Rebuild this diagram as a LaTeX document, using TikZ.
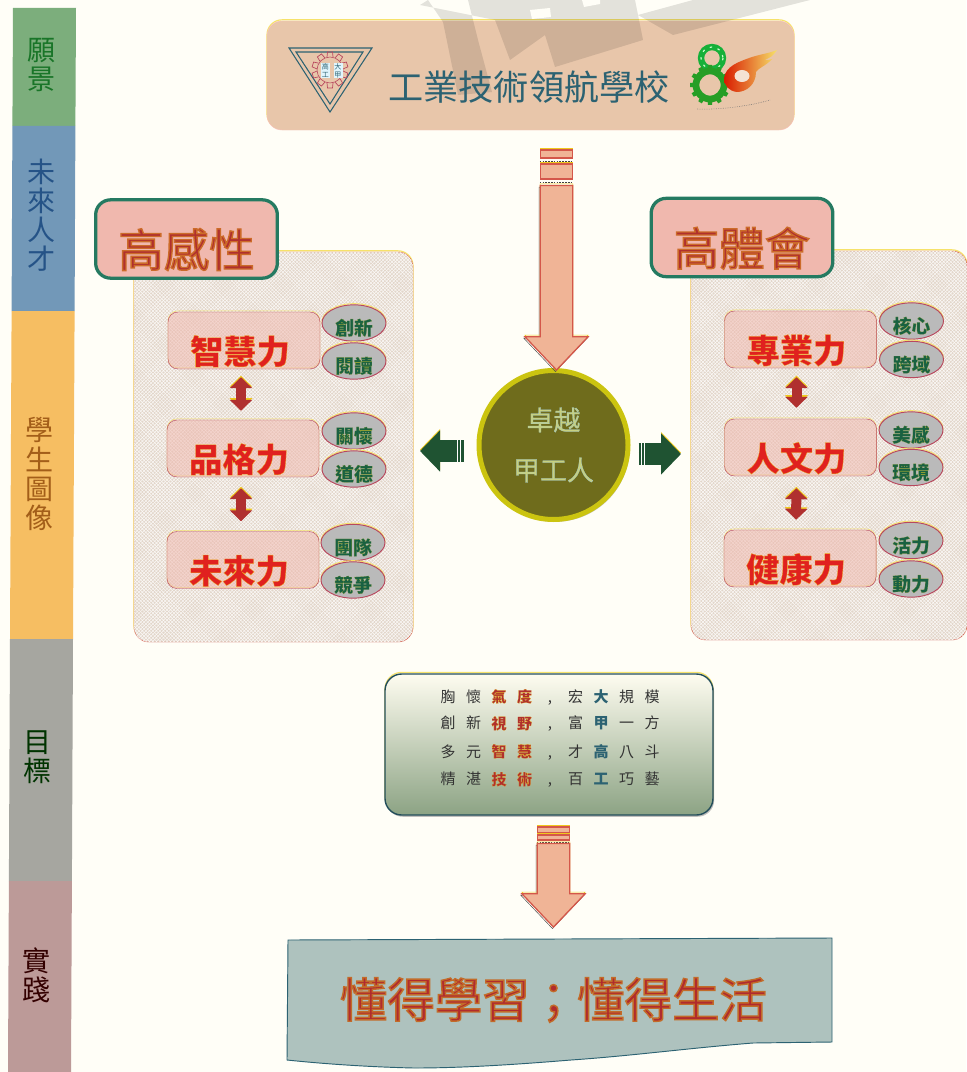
\documentclass[tikz,border=0pt]{standalone}
\usepackage{fontspec}
\setmainfont{Noto Sans CJK TC}
\usetikzlibrary{arrows.meta,patterns,shadows,shapes.geometric}

\definecolor{paper}{HTML}{FFFEF7}
\definecolor{barone}{HTML}{7CAE7C}
\definecolor{bartwo}{HTML}{7298B8}
\definecolor{barthree}{HTML}{F6BE62}
\definecolor{barfour}{HTML}{A6A6A0}
\definecolor{barfive}{HTML}{BC9A98}
\definecolor{tan}{HTML}{E8C6AA}
\definecolor{teal}{HTML}{2C6272}
\definecolor{markyellow}{HTML}{EFC81E}
\definecolor{softyellow}{HTML}{F6E26A}
\definecolor{brick}{HTML}{B0302F}
\definecolor{rim}{HTML}{B8485E}
\definecolor{rosefill}{HTML}{F0B8AE}
\definecolor{peach}{HTML}{F0B496}
\definecolor{peachedge}{HTML}{D4574A}
\definecolor{leaf}{HTML}{1F5332}
\definecolor{olive}{HTML}{6F6C1C}
\definecolor{ring}{HTML}{CBC410}
\definecolor{sage}{HTML}{8CA384}
\definecolor{slate}{HTML}{AEC2BE}
\definecolor{mesh}{HTML}{E2D6CA}

% text with a thin coloured edge: weight, fill rgb, edge rgb, text
\newcommand{\edgetext}[4]{{\addfontfeatures{FakeBold=#1}\special{pdf:bcolor [#2] [#3]}#4\special{pdf:ecolor}}}
\newcommand{\titlename}[1]{\raisebox{-.84cm}[0pt][0pt]{\edgetext{3}{.69 .19 .18}{.80 .42 .16}{#1}}}
\newcommand{\skillname}[1]{\kern-.24cm\raisebox{-.705cm}[0pt][0pt]{\bfseries\edgetext{.8}{.88 .13 .12}{.94 .70 .12}{#1}}}
\newcommand{\tagname}[1]{\raisebox{-.36cm}[0pt][0pt]{\bfseries\edgetext{.6}{.10 .38 .26}{.55 .62 .20}{#1}}}
\newcommand{\plainchar}[1]{\makebox[.765cm]{\textcolor{black!80}{#1}}}
\newcommand{\redchar}[1]{\makebox[.765cm]{\bfseries\edgetext{.9}{.69 .19 .18}{.90 .72 .15}{#1}}}
\newcommand{\bluechar}[1]{\makebox[.765cm]{\bfseries\textcolor{teal}{#1}}}

\tikzset{
  barlabel/.style={align=center, inner sep=0pt, font=\fontsize{23.9}{24.8}\selectfont},
  bannerbox/.style={rounded corners=.45cm, fill=tan, draw=pink!70!tan, minimum width=15.81cm, minimum height=3.27cm, preaction={draw=softyellow, line width=1pt, transform canvas={yshift=1pt}}},
  panelbox/.style 2 args={rounded corners=.45cm, fill=mesh, draw=peachedge, minimum width=#1*.03cm, minimum height=#2*.03cm, preaction={draw=softyellow, line width=1pt, transform canvas={yshift=1pt}}, postaction={pattern=crosshatch, pattern color=white!85!mesh}},
  titlebox/.style={rounded corners=.45cm, fill=rosefill, draw=teal!85!green, line width=2.8pt, minimum width=5.45cm, minimum height=2.35cm, font=\fontsize{38.8}{38.8}\selectfont},
  skillbox/.style={rounded corners=.3cm, fill=rosefill, fill opacity=.55, text opacity=1, draw=rim, minimum width=4.56cm, minimum height=1.71cm, font=\fontsize{28.4}{28.4}\selectfont, preaction={draw=softyellow, transform canvas={yshift=1pt}}},
  tagbox/.style={ellipse, fill=black!27, draw=rim, line width=.8pt, inner sep=0pt, minimum width=1.92cm, minimum height=1.09cm, font=\fontsize{16}{16}\selectfont, preaction={draw=softyellow, transform canvas={yshift=1pt}}},
  bandbox/.style={fill=peach, draw=peachedge, line width=1pt, inner sep=0pt, minimum width=.97cm, preaction={draw=markyellow, transform canvas={yshift=1.2pt}}},
  gapline/.style={densely dotted, line width=1.4pt, black!75},
  twinarrow/.style={line width=.3cm, draw=brick, {Triangle[length=.33cm,width=.66cm]}-{Triangle[length=.33cm,width=.66cm]}, preaction={draw=markyellow, transform canvas={yshift=1.3pt}}},
  dropshape/.style={to path={([xshift=-.49cm]\tikztostart) -- ([xshift=.49cm]\tikztostart) -- ([xshift=.49cm,yshift=1cm]\tikztotarget) -- ([xshift=.95cm,yshift=1cm]\tikztotarget) -- (\tikztotarget) -- ([xshift=-.95cm,yshift=1cm]\tikztotarget) -- ([xshift=-.49cm,yshift=1cm]\tikztotarget) -- cycle}},
  fatarrow/.style={dropshape, fill=peach, draw=peachedge, line width=1.1pt, line join=miter, preaction={draw=black!70, transform canvas={xshift=-.9pt,yshift=-1.3pt}}, preaction={draw=markyellow, transform canvas={yshift=1.4pt}}},
  greenarrow/.style={line width=.65cm, draw=leaf, -{Triangle[length=.6cm,width=1.2cm]}, preaction={draw=markyellow, transform canvas={yshift=1.2pt}}}
}

\begin{document}
\begin{tikzpicture}[x=.03cm, y=-.03cm]
\useasboundingbox (0,0) rectangle (966,1072);
\fill[paper] (0,0) rectangle (966,1072);

% Draw the strip on the left
\fill[barone] (13,8) -- (76,8) -- (75.4,126) -- (12.4,126) -- cycle;
\fill[bartwo] (12.4,126) -- (75.4,126) -- (74.6,311) -- (11.6,311) -- cycle;
\fill[barthree] (11.6,311) -- (74.6,311) -- (73,639) -- (10,639) -- cycle;
\fill[barfour] (10,639) -- (73,639) -- (71.9,881) -- (8.9,881) -- cycle;
\fill[barfive] (8.9,881) -- (71.9,881) -- (71,1072) -- (8,1072) -- cycle;

\node[barlabel, text=leaf!80!green] (vision) at (41.5,65) {願\\景};
\node[barlabel, text=teal!85!blue] (talent) at (41,215) {未\\來\\人\\才};
\node[barlabel, text=orange!60!black!90] (portrait) at (40,474) {學\\生\\圖\\像};
\node[barlabel, text=black!80!green] (goal) at (38,757) {目\\標};
\node[barlabel, text=black!80!red] (practice) at (37,975) {實\\踐};

% Draw the banner at the top
\node[bannerbox] (banner) at (530.5,75.5) {};
\fill[black, opacity=.11] (420,5) -- (428,0) -- (443,22) -- (458,95) -- (492,92) -- (478,40) -- (468,0) -- (635,0) -- (643,40) -- (555,67) -- (545,35) -- (510,60) -- (495,20) -- cycle
  (638,15) -- (693,0) -- (810,0) -- (720,23) -- (673,35) -- cycle;
\fill[paper] (530,10) -- (550,8) -- (551,17) -- (532,19) -- cycle;
\fill[paper] (582,0) -- (600,0) -- (600,4) -- (584,7) -- cycle;
\node[font=\fontsize{30}{30}\selectfont, text=teal, inner sep=0pt] (school) at (529,87) {工業技術領航學校};

% School mark, triangle and gear
\draw[teal, line width=.9pt, line join=miter] (289,48) -- (372,48) -- (330,112) -- cycle;
\draw[teal, line width=.9pt, line join=miter] (296,52) -- (363,52) -- (330,104) -- cycle;
\begin{scope}[shift={(330,70)}]
\draw[rim, line width=.5pt] (0,0) circle (13);
\foreach \a in {0,36,...,324}
  \draw[rim, line width=.6pt, rotate=\a] (-3,-13) -- (-2.5,-18) -- (2.5,-18) -- (3,-13);
\end{scope}
\node[fill=cyan!12!white, inner sep=0pt, minimum width=.27cm, minimum height=.45cm, align=center, text=teal, font=\fontsize{6}{6.6}\selectfont] (markleft) at (325.5,70.5) {高\\工};
\node[fill=cyan!12!white, inner sep=0pt, minimum width=.27cm, minimum height=.45cm, align=center, text=teal, font=\fontsize{6}{6.6}\selectfont] (markright) at (338,70.5) {大\\甲};

% Anniversary mark, ring, gear and flame
\draw[green!50!teal, line width=.19cm] (712,58) circle (11);
\draw[white!80!green, line width=1pt, dash pattern=on 2pt off 5pt] (712,58) circle (11);
\draw[green!55!black!85, line width=.2cm] (710,85) circle (14);
\begin{scope}[shift={(710,85)}]
\foreach \a in {0,30,...,330}
  \fill[green!55!black!85, rotate=\a] (-2.5,-15) -- (-2,-20) -- (2,-20) -- (2.5,-15) -- cycle;
\end{scope}
\draw[shading=axis, left color=red!75!orange!85!black, middle color=orange, right color=softyellow, draw=none]
  (724,78) .. controls (726,66) and (738,62) .. (752,57) .. controls (762,54) and (770,53) .. (777,50) .. controls (773,56) and (770,58) .. (764,60) .. controls (768,60) and (770,60) .. (772,59) .. controls (766,66) and (758,68) .. (756,72) .. controls (756,85) and (746,92) .. (737,92) .. controls (729,91) and (724,86) .. (724,78) -- cycle;
\fill[tan!50!white] (742,76) ellipse (7.5 and 6);
\draw[black!55, densely dotted, line width=.5pt] (697,109) .. controls (720,110) and (750,106) .. (770,100);

% Draw the two panels
\node[panelbox={279}{390}] (feelpanel) at (273.5,447) {};
\node[panelbox={276}{389}] (bodypanel) at (829,445.5) {};
\node[titlebox] (feeltitle) at (186.5,239) {\titlename{高感性}};
\node[titlebox] (bodytitle) at (742,237.5) {\titlename{高體會}};

% Left column
\node[skillbox] (wisdom) at (244,340.5) {\skillname{智慧力}};
\node[skillbox] (virtue) at (243,448.5) {\skillname{品格力}};
\node[skillbox] (future) at (243,560) {\skillname{未來力}};
\node[tagbox] (create) at (354,323) {\tagname{創新}};
\node[tagbox] (reading) at (354,361) {\tagname{閱讀}};
\node[tagbox] (caring) at (354,431) {\tagname{關懷}};
\node[tagbox] (moral) at (354,469) {\tagname{道德}};
\node[tagbox] (team) at (353,542.5) {\tagname{團隊}};
\node[tagbox] (compete) at (353,580) {\tagname{競爭}};
\draw[twinarrow, shorten <=.24cm, shorten >=.27cm] ([xshift=-.09cm]wisdom.south) -- ([xshift=-.06cm]virtue.north);
\draw[twinarrow, shorten <=.33cm, shorten >=.30cm] ([xshift=-.06cm]virtue.south) -- ([xshift=-.06cm]future.north);

% Right column
\node[skillbox] (major) at (800.5,339.5) {\skillname{專業力}};
\node[skillbox] (culture) at (800.5,447.5) {\skillname{人文力}};
\node[skillbox] (health) at (800,558.5) {\skillname{健康力}};
\node[tagbox] (core) at (911.5,321) {\tagname{核心}};
\node[tagbox] (cross) at (911.5,359.5) {\tagname{跨域}};
\node[tagbox] (beauty) at (911,430) {\tagname{美感}};
\node[tagbox] (nature) at (911,467.5) {\tagname{環境}};
\node[tagbox] (energy) at (911,540.5) {\tagname{活力}};
\node[tagbox] (motion) at (911,579) {\tagname{動力}};
\draw[twinarrow, shorten <=.27cm, shorten >=.33cm] ([xshift=-.12cm]major.south) -- ([xshift=-.12cm]culture.north);
\draw[twinarrow, shorten <=.36cm, shorten >=.30cm] ([xshift=-.12cm]culture.south) -- ([xshift=-.12cm]health.north);

% Centre circle and the arrows round it
\node[circle, fill=olive, draw=ring, line width=5*.03cm, inner sep=0pt, minimum size=149*.03cm, align=center, font=\fontsize{23}{42.7}\selectfont, drop shadow={shadow xshift=1.5pt, shadow yshift=-2pt, fill=black!45}] (hero) at (553.5,445) {\edgetext{.9}{.78 .82 .50}{.62 .78 .82}{卓越}\\\edgetext{.9}{.78 .82 .50}{.62 .78 .82}{甲工人}};

\node[bandbox, minimum height=.24cm] (bandone) at (556.5,154) {};
\node[bandbox, minimum height=.45cm] (bandtwo) at (556.5,171.5) {};
\draw[gapline] (bandone.south west) ++(0,3) -- ++(33,0);
\draw[gapline] (bandtwo.south west) ++(0,3) -- ++(33,0);
\coordinate (dropstart) at ([yshift=-.18cm]bandtwo.south);
\coordinate (droptip) at ([yshift=-.06cm]bandtwo.south |- hero.north);
\draw[fatarrow] (dropstart) to (droptip);

\coordinate (leftend) at (420,451);
\coordinate (rightend) at (681,454);
\draw[greenarrow, shorten <=.39cm] (hero.west |- leftend) -- (leftend);
\draw[greenarrow, shorten <=.24cm] (hero.east |- rightend) -- (rightend);
\draw[white, line width=.7pt] (457,440) -- (457,462) (460.5,440) -- (460.5,462);
\draw[white, line width=.7pt] (641,443) -- (641,465) (644.5,443) -- (644.5,465);

% Box with the four lines
\node[rounded corners=.5cm, draw=teal!80!black, line width=1.2pt, top color=white!90!softyellow, middle color=sage!45!white, bottom color=sage, minimum width=9.84cm, minimum height=4.23cm, preaction={draw=softyellow, line width=1pt, transform canvas={yshift=1.4pt}}, drop shadow={shadow xshift=1pt, shadow yshift=-1.5pt, fill=black!50}] (target) at (549,744.5) {};
\node[inner sep=0pt, font=\fontsize{12.8}{12.8}\selectfont] (lineone) at (550,697) {\plainchar{胸}\plainchar{懷}\redchar{氣}\redchar{度}\plainchar{,}\plainchar{宏}\bluechar{大}\plainchar{規}\plainchar{模}};
\node[inner sep=0pt, font=\fontsize{12.8}{12.8}\selectfont] (linetwo) at (550,724) {\plainchar{創}\plainchar{新}\redchar{視}\redchar{野}\plainchar{,}\plainchar{富}\bluechar{甲}\plainchar{一}\plainchar{方}};
\node[inner sep=0pt, font=\fontsize{12.8}{12.8}\selectfont] (linethree) at (550,752) {\plainchar{多}\plainchar{元}\redchar{智}\redchar{慧}\plainchar{,}\plainchar{才}\bluechar{高}\plainchar{八}\plainchar{斗}};
\node[inner sep=0pt, font=\fontsize{12.8}{12.8}\selectfont] (linefour) at (550,780) {\plainchar{精}\plainchar{湛}\redchar{技}\redchar{術}\plainchar{,}\plainchar{百}\bluechar{工}\plainchar{巧}\plainchar{藝}};

% Lower arrow
\node[bandbox, minimum height=.18cm] (bandthree) at (553.5,830) {};
\node[bandbox, minimum height=.15cm] (bandfour) at (553.5,837.5) {};
\draw[gapline] (bandfour.south west) ++(0,2.5) -- ++(33,0);
\coordinate (lowstart) at ([yshift=-.09cm]bandfour.south);
\coordinate (slogantop) at (553.5,939);
\coordinate (lowtip) at ([yshift=.36cm]slogantop);
\draw[fatarrow] (lowstart) to (lowtip);

% Wavy box at the bottom
\draw[teal, line width=.8pt, fill=slate] (288,940) -- (832,938) -- (832,1042) -- (753,1043) .. controls (690,1048) and (630,1056) .. (571,1060) .. controls (510,1065) and (460,1068) .. (414,1068) .. controls (370,1067) and (325,1064) .. (287,1060) -- cycle;
\node[inner sep=0pt, font=\fontsize{40.5}{40.5}\selectfont] (slogan) at (553.5,1000) {\edgetext{3}{.69 .17 .18}{.76 .42 .16}{懂得學習；懂得生活}};

\end{tikzpicture}
\end{document}
